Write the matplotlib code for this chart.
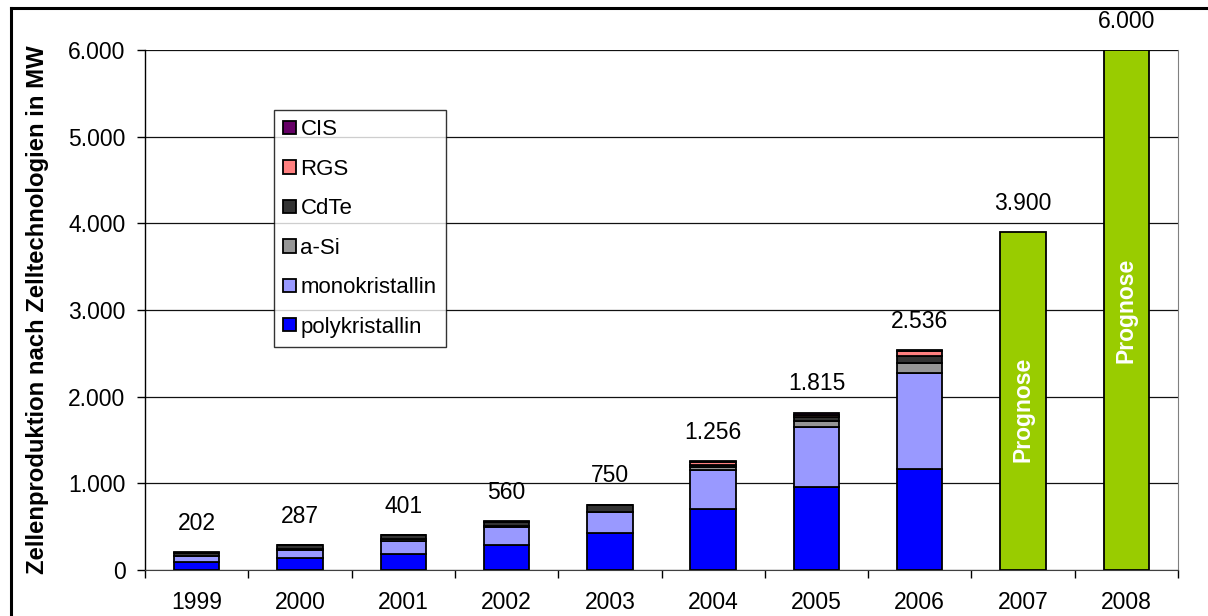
import matplotlib.pyplot as plt
from matplotlib.lines import Line2D
from matplotlib.ticker import FuncFormatter

plt.rcParams['font.family'] = ['Liberation Sans', 'DejaVu Sans']

years = ["1999", "2000", "2001", "2002", "2003", "2004", "2005", "2006", "2007", "2008"]
totals = [202, 287, 401, 560, 750, 1256, 1815, 2536, 3900, 6000]

# Anteile je Technologie (MW), 1999-2006
poly = [95, 140, 190, 285, 430, 705, 960, 1170]
mono = [62, 90, 145, 215, 235, 445, 690, 1105]
asi = [8, 10, 20, 10, 10, 35, 65, 115]
cdte = [35, 45, 44, 48, 72, 30, 50, 80]
rgs = [0, 0, 0, 0, 0, 35, 25, 55]
cis = [2, 2, 2, 2, 3, 6, 25, 11]

# Prognose 2007/2008
prognose = [3900, 6000]
prognose_text_y = [1850, 3000]

series = [
    ("polykristallin", poly, "#0000FF"),
    ("monokristallin", mono, "#9999FF"),
    ("a-Si", asi, "#969696"),
    ("CdTe", cdte, "#333333"),
    ("RGS", rgs, "#FF8080"),
    ("CIS", cis, "#660066"),
]

fig = plt.figure(figsize=(12.08, 6.16), dpi=100)
ax = fig.add_axes([145 / 1208, 1 - 570 / 616, (1178 - 145) / 1208, 520 / 616])

x_hist = list(range(len(poly)))
bottom = [0] * len(poly)
handles = []
for name, vals, col in series:
    b = ax.bar(x_hist, vals, width=0.44, bottom=bottom, color=col,
               edgecolor="black", linewidth=1.3, label=name, zorder=3)
    handles.append(b)
    bottom = [bo + v for bo, v in zip(bottom, vals)]

x_prog = [8, 9]
ax.bar(x_prog, prognose, width=0.44, color="#99CC00", edgecolor="black",
       linewidth=1.3, zorder=3)
for xp, ty in zip(x_prog, prognose_text_y):
    ax.text(xp, ty, "Prognose", rotation=90, ha="center", va="center",
            color="white", fontsize=16.5, fontweight="bold", zorder=4)

# Summen über den Säulen
for i, t in enumerate(totals):
    lab = f"{t:,}".replace(",", ".")
    ax.annotate(lab, (i, t), xytext=(0, 29), textcoords="offset pixels",
                ha="center", va="center", fontsize=16.5)

ax.set_xlim(-0.5, 9.5)
ax.set_ylim(0, 6000)
ax.set_yticks(range(0, 6001, 1000))
ax.yaxis.set_major_formatter(FuncFormatter(lambda v, p: f"{int(v):,}".replace(",", ".")))
ax.set_xticks(range(10))
ax.set_xticklabels(years)
ax.set_xticks([i - 0.5 for i in range(11)], minor=True)
ax.tick_params(axis="x", which="major", length=0, labelsize=16.5, pad=15)
ax.tick_params(axis="x", which="minor", length=6, width=1, direction="out")
ax.tick_params(axis="y", length=6, width=1, direction="out", labelsize=16.5, pad=8)

ax.grid(axis="y", color="#111111", linewidth=0.9, zorder=0)
ax.spines["top"].set_visible(False)
ax.spines["right"].set_color("#808080")
ax.spines["left"].set_linewidth(1)
ax.spines["bottom"].set_color("#404040")

ax.set_ylabel("Zellenproduktion nach Zelltechnologien in MW", fontsize=17.2,
              fontweight="bold", labelpad=14)

leg = ax.legend(handles[::-1], [s[0] for s in series][::-1], loc="upper left",
                bbox_to_anchor=((274 - 145) / 1033, (570 - 110) / 520),
                borderaxespad=0, fontsize=16, frameon=True, fancybox=False,
                edgecolor="black", handlelength=0.55, handleheight=0.55,
                handletextpad=0.22, labelspacing=0.83, borderpad=0.42)
leg.get_frame().set_linewidth(1)
leg.set_zorder(5)

# Rahmen um die Grafik (links und oben)
fig.add_artist(Line2D([11 / 1208, 11 / 1208], [0, 1 - 8 / 616], color="black", linewidth=2.2))
fig.add_artist(Line2D([11 / 1208, 1], [1 - 8 / 616, 1 - 8 / 616], color="black", linewidth=2.2))

fig.savefig("out.png", dpi=100)
